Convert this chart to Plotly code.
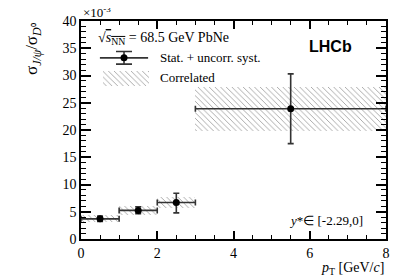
import plotly.graph_objects as go

# data (values in units of 1e-3)
bin_lo = [0, 1, 2, 3]
bin_hi = [1, 2, 3, 8]
pt_center = [0.5, 1.5, 2.5, 5.5]
ratio = [3.7, 5.25, 6.7, 23.9]
err_up = [0.5, 0.65, 1.7, 6.4]
err_dn = [0.5, 0.6, 1.9, 6.4]
corr_err = [0.65, 0.85, 0.95, 4.0]

FONT = "Liberation Serif"
HATCH = dict(shape="\\", fgcolor="#a0a0a0", bgcolor="white",
             size=4, solidity=0.22, fillmode="replace")
fig = go.Figure()

# correlated (hatched) boxes
widths = [h - l for l, h in zip(bin_lo, bin_hi)]
centers = [(l + h) / 2 for l, h in zip(bin_lo, bin_hi)]
fig.add_trace(go.Bar(
    x=centers, y=[2 * c for c in corr_err],
    base=[r - c for r, c in zip(ratio, corr_err)],
    width=widths,
    marker=dict(color="white", line=dict(width=0), pattern=HATCH),
    showlegend=False, hoverinfo="skip"))

# stat + uncorrelated points
fig.add_trace(go.Scatter(
    x=pt_center, y=ratio, mode="markers",
    marker=dict(color="black", size=7),
    error_y=dict(type="data", symmetric=False, array=err_up, arrayminus=err_dn,
                 color="#333333", thickness=1.6, width=3),
    error_x=dict(type="data", symmetric=False,
                 array=[h - c for h, c in zip(bin_hi, pt_center)],
                 arrayminus=[c - l for l, c in zip(bin_lo, pt_center)],
                 color="#333333", thickness=1.6, width=3),
    showlegend=False))

# legend symbols on an overlay axis (0..1 over the plot area)
fig.add_trace(go.Bar(
    x=[0.148], y=[0.067], base=[0.702], width=[0.151],
    xaxis="x2", yaxis="y2",
    marker=dict(color="white", line=dict(width=0), pattern=HATCH),
    showlegend=False, hoverinfo="skip"))
fig.add_trace(go.Scatter(
    x=[0.141], y=[0.831], mode="markers", xaxis="x2", yaxis="y2",
    marker=dict(color="black", size=7),
    error_y=dict(type="constant", value=0.029, color="#333333", thickness=1.6, width=8),
    error_x=dict(type="constant", value=0.079, color="#333333", thickness=1.6, width=0),
    showlegend=False))

axis_common = dict(showgrid=False, zeroline=False, showline=True, linecolor="black",
                   linewidth=1.5, mirror="allticks", ticks="inside", tickcolor="black",
                   tickwidth=1.5, tickfont=dict(family=FONT, size=14, color="black"))

fig.update_layout(
    width=399, height=270,
    margin=dict(l=73, r=21, t=6, b=39),
    paper_bgcolor="white", plot_bgcolor="white",
    font=dict(family=FONT, color="black"),
    bargap=0, barmode="overlay",
    xaxis=dict(range=[0, 8], tickvals=[0, 2, 4, 6, 8], ticklen=8,
               minor=dict(dtick=0.5, ticklen=4, ticks="inside", tickcolor="black", tickwidth=1.2),
               **axis_common),
    yaxis=dict(range=[0, 40], tickvals=[0, 5, 10, 15, 20, 25, 30, 35, 40], ticklen=10,
               minor=dict(dtick=1, ticklen=5, ticks="inside", tickcolor="black", tickwidth=1.2),
               **axis_common),
    xaxis2=dict(range=[0, 1], overlaying="x", visible=False, fixedrange=True),
    yaxis2=dict(range=[0, 1], overlaying="y", visible=False, fixedrange=True),
)

ann = [
    dict(text="×10<sup>-3</sup>", x=0, y=0.995, xanchor="left", yanchor="bottom",
         font=dict(size=13)),
    dict(text="√<span style='text-decoration:overline'><i>s</i><sub>NN</sub></span> = 68.5 GeV PbNe",
         x=0.049, y=0.92, xanchor="left", yanchor="middle", font=dict(size=14)),
    dict(text="Stat. + uncorr. syst.", x=0.252, y=0.831, xanchor="left", yanchor="middle",
         font=dict(size=13)),
    dict(text="Correlated", x=0.252, y=0.74, xanchor="left", yanchor="middle",
         font=dict(size=13)),
    dict(text="<b>LHCb</b>", x=0.818, y=0.882, xanchor="center", yanchor="middle",
         font=dict(family="Liberation Sans", size=16)),
    dict(text="<i>y</i>*∈ [-2.29,0]", x=0.931, y=0.084, xanchor="right", yanchor="middle",
         font=dict(size=13)),
    dict(text="<i>p</i><sub>T</sub> [GeV/<i>c</i>]", x=1.0, y=-0.085, xanchor="right",
         yanchor="top", font=dict(size=14)),
    dict(text="σ<sub><i>J/ψ</i></sub>/σ<sub><i>D</i>⁰</sub>", x=0, xshift=-48, y=1.0,
         xanchor="center", yanchor="top", textangle=-90, font=dict(size=17)),
]
for a in ann:
    a.setdefault("showarrow", False)
    a["xref"] = "paper"
    a["yref"] = "paper"
    a["font"] = dict(family=a["font"].get("family", FONT), size=a["font"]["size"], color="black")
    fig.add_annotation(**a)

fig.write_html("out.html")
